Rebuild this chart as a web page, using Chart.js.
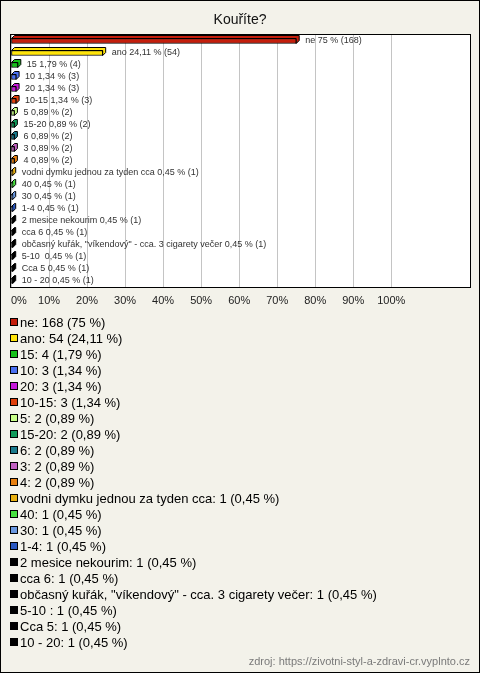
<!DOCTYPE html>
<html>
<head>
<meta charset="utf-8">
<script src="https://cdn.jsdelivr.net/npm/chart.js@4"></script>
<style>
  html, body { margin: 0; padding: 0; background: #f3f2ea; }
  canvas { display: block; }
</style>
</head>
<body>
<canvas id="chart" width="480" height="673"></canvas>
<script>
const title = "Kouříte?";
const source = "zdroj: https://zivotni-styl-a-zdravi-cr.vyplnto.cz";

const categories = [
  "ne", "ano", "15", "10", "20", "10-15", "5", "15-20", "6", "3", "4",
  "vodni dymku jednou za tyden cca", "40", "30", "1-4", "2 mesice nekourim",
  "cca 6", "občasný kuřák, \"víkendový\" - cca. 3 cigarety večer", "5-10 ",
  "Cca 5", "10 - 20"
];
const counts = [168, 54, 4, 3, 3, 3, 2, 2, 2, 2, 2, 1, 1, 1, 1, 1, 1, 1, 1, 1, 1];
const percents = [75, 24.11, 1.79, 1.34, 1.34, 1.34, 0.89, 0.89, 0.89, 0.89, 0.89,
  0.45, 0.45, 0.45, 0.45, 0.45, 0.45, 0.45, 0.45, 0.45, 0.45];
const colors = [
  "#c41e0c", "#ffe40a", "#16c01a", "#4a6ff0", "#c418d8", "#e0400c",
  "#c8ff88", "#109a5a", "#1a7a8c", "#c060c0", "#e88010",
  "#e8b010", "#48e040", "#6a98e0", "#2a58c0",
  "#000000", "#000000", "#000000", "#000000", "#000000", "#000000"
];
// labelled ticks go to 100 %, the axis runs a bit further
const xTicks = [0, 10, 20, 30, 40, 50, 60, 70, 80, 90, 100, 110, 120];

const fmt = (p) => String(p).replace(".", ",");

const FONT = "'Liberation Sans', Arial, sans-serif";
const DEPTH = 3;

const look = {
  id: "look",
  beforeDraw(chart) {
    const { ctx, chartArea: a } = chart;
    ctx.save();
    ctx.fillStyle = "#f3f2ea";
    ctx.fillRect(0, 0, chart.width, chart.height);
    ctx.fillStyle = "#ffffff";
    ctx.fillRect(a.left, a.top, a.right - a.left, a.bottom - a.top);
    ctx.restore();
  },
  beforeDatasetsDraw(chart) {
    // 3D faces behind the front of each bar
    const { ctx } = chart;
    const meta = chart.getDatasetMeta(0);
    ctx.save();
    ctx.lineWidth = 1;
    ctx.strokeStyle = "#000";
    meta.data.forEach((bar, i) => {
      const top = bar.y - bar.height / 2, bot = bar.y + bar.height / 2;
      const l = bar.base, r = bar.x;
      ctx.fillStyle = colors[i];
      ctx.beginPath();
      ctx.moveTo(l, top);
      ctx.lineTo(l + DEPTH, top - DEPTH);
      ctx.lineTo(r + DEPTH, top - DEPTH);
      ctx.lineTo(r + DEPTH, bot - DEPTH);
      ctx.lineTo(r, bot);
      ctx.lineTo(r, top);
      ctx.closePath();
      ctx.fill();
      ctx.stroke();
    });
    ctx.restore();
  },
  afterDraw(chart) {
    const { ctx, chartArea: a } = chart;
    const meta = chart.getDatasetMeta(0);
    ctx.save();
    // bar labels
    ctx.font = "9px " + FONT;
    ctx.fillStyle = "#333";
    ctx.textBaseline = "middle";
    ctx.textAlign = "left";
    meta.data.forEach((bar, i) => {
      const t = categories[i] + " " + fmt(percents[i]) + " % (" + counts[i] + ")";
      ctx.fillText(t, bar.x + DEPTH + 6, bar.y);
    });
    // plot box
    ctx.strokeStyle = "#000";
    ctx.lineWidth = 1;
    ctx.strokeRect(Math.round(a.left) - 0.5, Math.round(a.top) - 0.5,
      Math.round(a.right - a.left) + 1, Math.round(a.bottom - a.top) + 1);
    // title
    ctx.font = "14px " + FONT;
    ctx.fillStyle = "#111";
    ctx.textAlign = "center";
    ctx.fillText(title, chart.width / 2, 20);
    // legend
    ctx.font = "13px " + FONT;
    ctx.textAlign = "left";
    categories.forEach((c, i) => {
      const y = Math.round(321.5 + 16 * i);
      ctx.fillStyle = colors[i];
      ctx.fillRect(10, y - 4, 8, 8);
      ctx.strokeStyle = "#000";
      ctx.strokeRect(10.5, y - 3.5, 7, 7);
      ctx.fillStyle = "#000";
      ctx.fillText(c + ": " + counts[i] + " (" + fmt(percents[i]) + " %)", 20, y + 1);
    });
    // source
    ctx.font = "11px " + FONT;
    ctx.fillStyle = "#7a7a7a";
    ctx.textAlign = "right";
    ctx.fillText(source, 470, 662);
    // outer frame
    ctx.strokeRect(0.5, 0.5, chart.width - 1, chart.height - 1);
    ctx.restore();
  },
};

new Chart(document.getElementById("chart"), {
  type: "bar",
  data: {
    labels: categories,
    datasets: [{
      data: percents,
      backgroundColor: colors,
      borderColor: "#000",
      borderWidth: 1,
      borderSkipped: false,
      barThickness: 5,
    }],
  },
  options: {
    indexAxis: "y",
    responsive: false,
    devicePixelRatio: 1,
    animation: false,
    layout: { padding: { left: 11, right: 10, top: 35, bottom: 356 } },
    plugins: { legend: { display: false }, tooltip: { enabled: false }, title: { display: false } },
    scales: {
      y: { display: false },
      x: {
        min: 0,
        max: 120.7,
        afterFit: (s) => { s.height = 30; },
        afterBuildTicks: (s) => { s.ticks = xTicks.map((v) => ({ value: v })); },
        border: { display: false },
        grid: {
          color: (c) => (c.tick && c.tick.value > 100 ? "rgba(0,0,0,0)" : "#c4c4c4"),
          drawTicks: false,
        },
        ticks: {
          align: "inner",
          autoSkip: false,
          maxRotation: 0,
          padding: 7,
          color: "#222",
          font: { family: FONT, size: 11 },
          callback: (v) => (v > 100 ? "" : v + "%"),
        },
      },
    },
  },
  plugins: [look],
});
</script>
</body>
</html>
